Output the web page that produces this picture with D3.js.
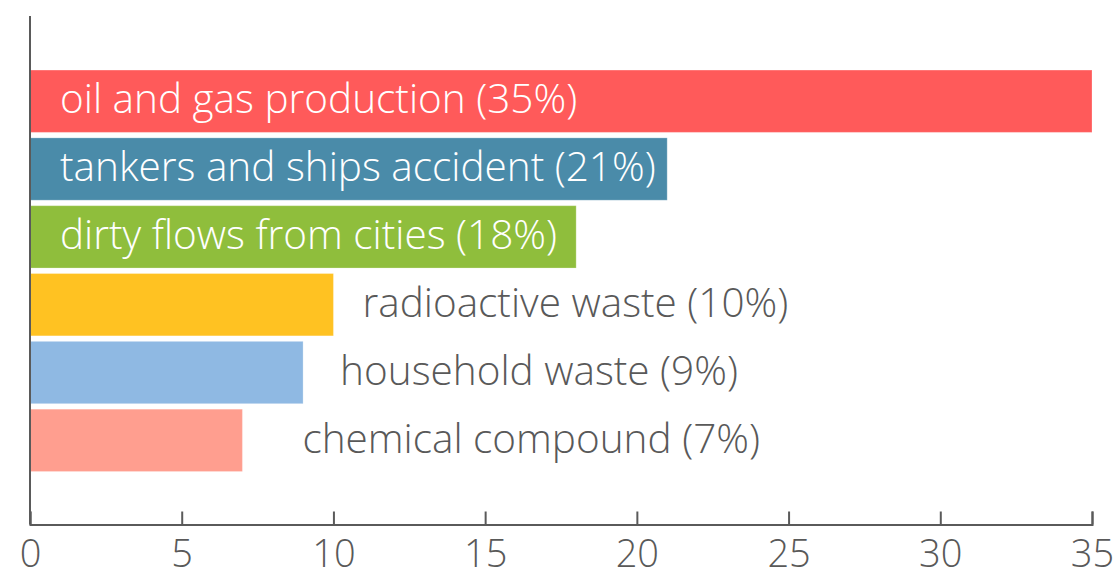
<!DOCTYPE html>
<html>
<head>
<meta charset="utf-8">
<script src="https://cdn.jsdelivr.net/npm/d3@7"></script>
<style>
  html, body { margin: 0; padding: 0; background: #fff; }
  svg { display: block; }
  text { font-family: "Open Sans", Roboto, sans-serif; font-weight: 300; }
</style>
</head>
<body>
<svg id="chart" width="1119" height="571"></svg>
<script>
// ---- data ----
const categories = [
  "oil and gas production",
  "tankers and ships accident",
  "dirty flows from cities",
  "radioactive waste",
  "household waste",
  "chemical compound"
];
const values = [35, 21, 18, 10, 9, 7];
const labels = [
  "oil and gas production (35%)",
  "tankers and ships accident (21%)",
  "dirty flows from cities (18%)",
  "radioactive waste (10%)",
  "household waste (9%)",
  "chemical compound (7%)"
];
const colors = ["#ff5a5a", "#4a8ba9", "#8fbe3c", "#ffc222", "#8fb9e3", "#ff9e8f"];
const xTicks = [0, 5, 10, 15, 20, 25, 30, 35];

// ---- layout (not data) ----
const insideLabel = [true, true, true, false, false, false];
const outsideGap = [0, 0, 0, 29, 37, 60];

const svg = d3.select("#chart");
const W = 1119, H = 571;
const margin = { left: 30, right: 27, top: 16, bottom: 46.5 };
const axisY = H - margin.bottom;

const x = d3.scaleLinear().domain([0, 35]).range([margin.left, W - margin.right]);
const y = d3.scaleBand().domain(categories)
  .range([margin.top, axisY])
  .paddingInner(0.081)
  .paddingOuter(0.789)
  .align(0.505);

const g = svg.append("g");

g.selectAll("rect.bar")
  .data(categories)
  .join("rect")
  .attr("class", "bar")
  .attr("x", x(0))
  .attr("y", d => y(d))
  .attr("width", (d, i) => x(values[i]) - x(0))
  .attr("height", y.bandwidth())
  .attr("fill", (d, i) => colors[i])
  .attr("stroke", "#ffffff")
  .attr("stroke-opacity", 0.25)
  .attr("stroke-width", 1);

g.selectAll("text.lbl")
  .data(categories)
  .join("text")
  .attr("class", "lbl")
  .attr("x", (d, i) => insideLabel[i] ? x(0) + 30 : x(values[i]) + outsideGap[i])
  .attr("y", d => y(d) + y.bandwidth() / 2)
  .attr("dy", "0.3em")
  .attr("fill", (d, i) => insideLabel[i] ? "#ffffff" : "#595959")
  .style("font-size", "40.5px")
  .text((d, i) => labels[i]);

// x axis
const xAxis = d3.axisBottom(x).tickValues(xTicks).tickSize(-13).tickSizeOuter(-13);
const ax = svg.append("g").attr("transform", `translate(0,${axisY})`).call(xAxis);
ax.select(".domain").attr("stroke", "#5a5a5a").attr("stroke-width", 2);
ax.selectAll(".tick line").attr("stroke", "#5a5a5a").attr("stroke-width", 2);
ax.selectAll(".tick text")
  .attr("fill", "#595959")
  .attr("dy", "0.71em")
  .attr("y", 16)
  .style("font-size", "38px")
  .style("font-family", "'Open Sans', Roboto, sans-serif")
  .style("font-weight", 300);

// y axis line (no ticks)
svg.append("line")
  .attr("x1", x(0)).attr("x2", x(0))
  .attr("y1", margin.top).attr("y2", axisY)
  .attr("stroke", "#5a5a5a").attr("stroke-width", 2);
</script>
</body>
</html>
